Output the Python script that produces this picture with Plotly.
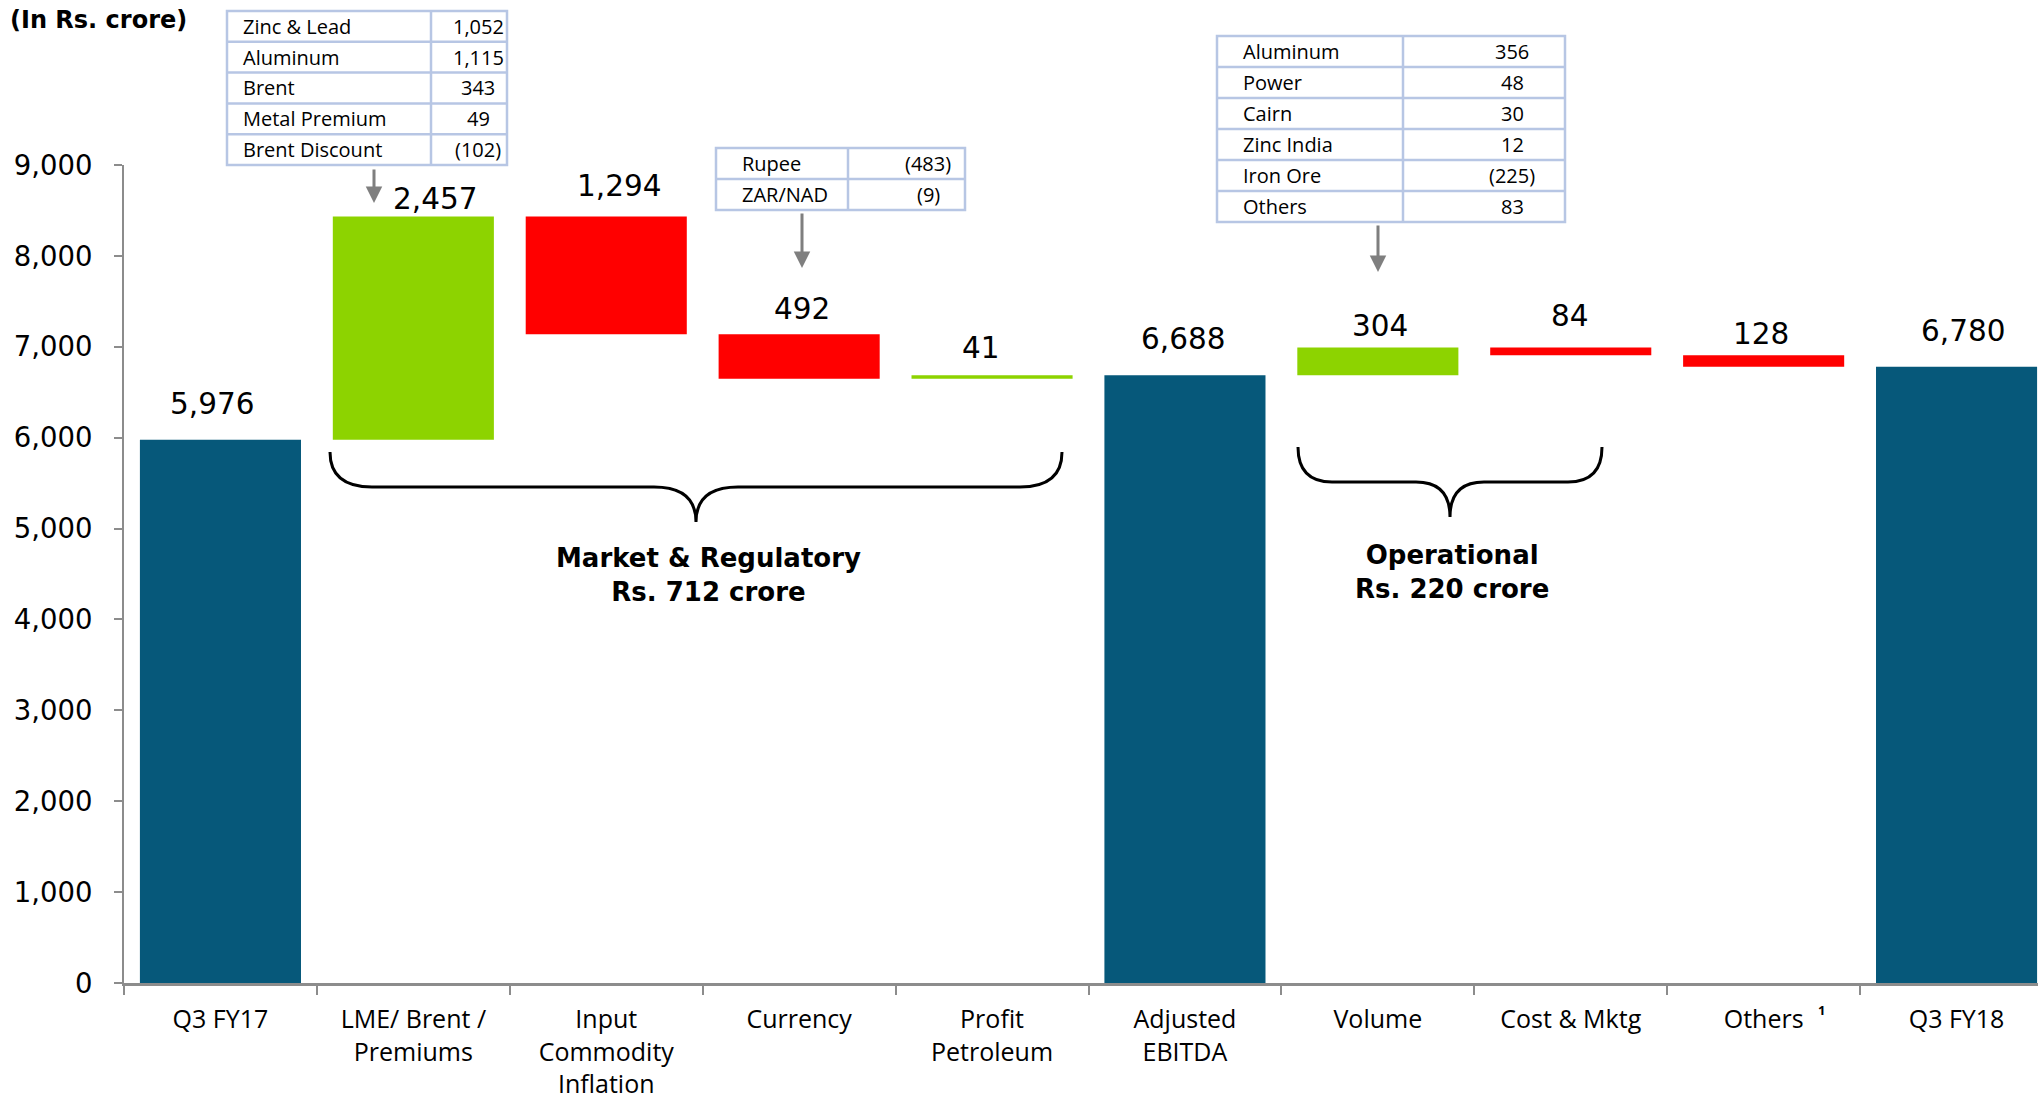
import plotly.graph_objects as go

# ---------------- data ----------------
categories = ["Q3 FY17", "LME/ Brent /<br>Premiums", "Input<br>Commodity<br>Inflation",
              "Currency", "Profit<br>Petroleum", "Adjusted<br>EBITDA", "Volume",
              "Cost & Mktg", "Others", "Q3 FY18"]
measures = ["absolute", "relative", "relative", "relative", "relative",
            "total", "relative", "relative", "relative", "total"]
changes = [5976, 2457, -1294, -492, 41, 0, 304, -84, -128, 0]

y_ticks = [0, 1000, 2000, 3000, 4000, 5000, 6000, 7000, 8000, 9000]

lme_items = ["Zinc & Lead", "Aluminum", "Brent", "Metal Premium", "Brent Discount"]
lme_values = [1052, 1115, 343, 49, -102]
currency_items = ["Rupee", "ZAR/NAD"]
currency_values = [-483, -9]
volume_items = ["Aluminum", "Power", "Cairn", "Zinc India", "Iron Ore", "Others"]
volume_values = [356, 48, 30, 12, -225, 83]

group_labels = ["<b>Market & Regulatory<br>Rs. 712 crore</b>", "<b>Operational<br>Rs. 220 crore</b>"]

# ---------------- colours / geometry ----------------
TEAL = "#06587A"
GREEN = "#8DD300"
RED = "#FF0000"
GRID = "#8C8C8C"
TBL = "#B7C6E4"

W, H = 2038, 1103
PL, PR, PT, PB = 124, 2038, 165, 983


def px(x):
    return (x - PL) / (PR - PL)


def py(y):
    return (PB - y) / (PB - PT)


def fmt(v):
    return f"({abs(v):,})" if v < 0 else f"{v:,}"


fig = go.Figure()
fig.add_trace(go.Waterfall(
    x=categories, measure=measures, y=changes,
    increasing=dict(marker=dict(color=GREEN)),
    decreasing=dict(marker=dict(color=RED)),
    totals=dict(marker=dict(color=TEAL)),
    connector=dict(visible=False),
    textinfo="none", hoverinfo="skip", showlegend=False,
))

# value labels above bars
running = 0
tops, labs = [], []
for m, v in zip(measures, changes):
    if m == "absolute":
        running = v
        tops.append(v); labs.append(v)
    elif m == "relative":
        prev = running
        running += v
        tops.append(max(prev, running)); labs.append(abs(v))
    else:
        tops.append(running); labs.append(running)

label_yshift = [36, 18, 31, 25, 27, 36, 22, 32, 21, 36]
label_xshift = [-8, 22, 13, 3, -11, -2, 2, -1, -3, 6]
annotations = []
for i, (t, l) in enumerate(zip(tops, labs)):
    annotations.append(dict(
        x=i, y=t, xref="x", yref="y", text=f"{l:,}", showarrow=False,
        yshift=label_yshift[i], xshift=label_xshift[i], yanchor="middle",
        font=dict(family="DejaVu Sans", size=29.5, color="black")))

shapes = []


def table(items, values, left, right, top, bottom, divx, lab_pad, val_cx):
    n = len(items)
    rh = (bottom - top) / n
    shapes.append(dict(type="rect", xref="paper", yref="paper",
                       x0=px(left), x1=px(right), y0=py(bottom), y1=py(top),
                       line=dict(color=TBL, width=2.5), fillcolor="white", layer="above"))
    shapes.append(dict(type="line", xref="paper", yref="paper",
                       x0=px(divx), x1=px(divx), y0=py(bottom), y1=py(top),
                       line=dict(color=TBL, width=2.5), layer="above"))
    for k in range(1, n):
        yy = top + k * rh
        shapes.append(dict(type="line", xref="paper", yref="paper",
                           x0=px(left), x1=px(right), y0=py(yy), y1=py(yy),
                           line=dict(color=TBL, width=2.5), layer="above"))
    for k, (it, v) in enumerate(zip(items, values)):
        yc = top + (k + 0.5) * rh
        annotations.append(dict(x=px(left + lab_pad), y=py(yc), xref="paper", yref="paper",
                                text=it, showarrow=False, xanchor="left", yanchor="middle",
                                font=dict(family="Open Sans", size=20, color="black")))
        annotations.append(dict(x=px(val_cx), y=py(yc), xref="paper", yref="paper",
                                text=fmt(v), showarrow=False, xanchor="center", yanchor="middle",
                                font=dict(family="Open Sans", size=20, color="black")))


table(lme_items, lme_values, 227, 507, 11, 165, 431, 14, 478)
table(currency_items, currency_values, 716, 965, 148, 210, 848, 24, 928)
table(volume_items, volume_values, 1217, 1565, 36, 222, 1403, 24, 1512)

# arrows
for (ax_, y0, y1) in [(374, 168, 203), (802, 212, 268), (1378, 224, 272)]:
    annotations.append(dict(x=px(ax_), y=py(y1), xref="paper", yref="paper",
                            ax=0, ay=-(y1 - y0), text="", showarrow=True,
                            arrowhead=2, arrowsize=1.1, arrowwidth=3, arrowcolor="#7F7F7F"))


def brace(x0, x1, ytop, yh, ytip, r):
    xm = (x0 + x1) / 2
    pts = [
        f"M {px(x0)},{py(ytop)}",
        f"Q {px(x0)},{py(yh)} {px(x0 + r)},{py(yh)}",
        f"L {px(xm - r)},{py(yh)}",
        f"Q {px(xm)},{py(yh)} {px(xm)},{py(ytip)}",
        f"Q {px(xm)},{py(yh)} {px(xm + r)},{py(yh)}",
        f"L {px(x1 - r)},{py(yh)}",
        f"Q {px(x1)},{py(yh)} {px(x1)},{py(ytop)}",
    ]
    shapes.append(dict(type="path", xref="paper", yref="paper", path=" ".join(pts),
                       line=dict(color="black", width=3)))


brace(330, 1062, 452, 487, 522, 42)
brace(1298, 1602, 447, 482, 517, 34)

annotations.append(dict(x=px(708), y=py(575), xref="paper", yref="paper", text=group_labels[0],
                        showarrow=False, xanchor="center", yanchor="middle",
                        font=dict(family="DejaVu Sans", size=26, color="black")))
annotations.append(dict(x=px(1452), y=py(572), xref="paper", yref="paper", text=group_labels[1],
                        showarrow=False, xanchor="center", yanchor="middle",
                        font=dict(family="DejaVu Sans", size=26, color="black")))

# title
annotations.append(dict(x=px(8), y=py(20), xref="paper", yref="paper", text="<b>(In Rs. crore)</b>",
                        showarrow=False, xanchor="left", yanchor="middle",
                        font=dict(family="DejaVu Sans", size=24, color="black")))
# footnote marker on "Others"
annotations.append(dict(x=px(1821), y=py(1010), xref="paper", yref="paper", text="<b>1</b>",
                        showarrow=False, xanchor="center", yanchor="middle",
                        font=dict(family="Open Sans", size=13, color="black")))

fig.update_layout(
    width=W, height=H,
    margin=dict(l=PL, r=W - PR, t=PT, b=H - PB, pad=0, autoexpand=False),
    paper_bgcolor="white", plot_bgcolor="white",
    waterfallgap=0.165,
    showlegend=False,
    annotations=annotations,
    shapes=shapes,
    xaxis=dict(range=[-0.5, -0.5 + (PR - PL) / 192.9], showgrid=False, zeroline=False,
               showline=True, linecolor=GRID, linewidth=3, automargin=False,
               ticks="outside", tickson="boundaries", ticklen=9, tickcolor=GRID, tickwidth=2,
               tickfont=dict(family="Open Sans", size=25, color="black"),
               ticklabelstandoff=12, fixedrange=True),
    yaxis=dict(range=[0, 9000], tickvals=y_ticks, tickformat=",", showgrid=False, zeroline=False,
               showline=True, linecolor=GRID, linewidth=2, automargin=False,
               ticks="outside", ticklen=8, tickcolor=GRID, tickwidth=2,
               tickfont=dict(family="DejaVu Sans", size=27.5, color="black"),
               ticklabelstandoff=16, fixedrange=True),
)

fig.write_html("out.html")
